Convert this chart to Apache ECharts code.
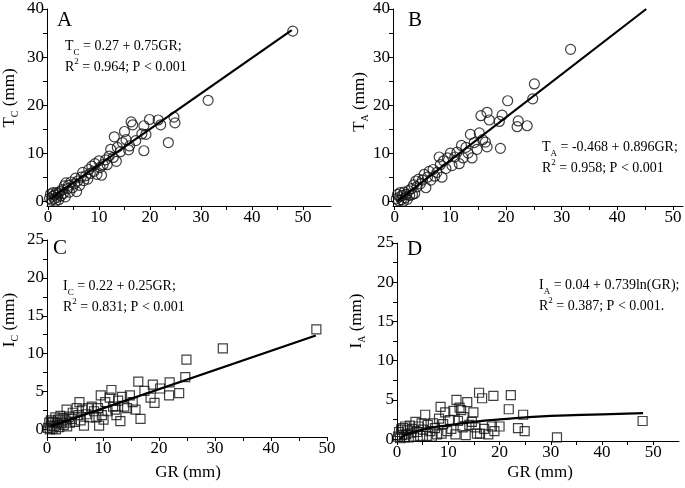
<!DOCTYPE html>
<html><head><meta charset="utf-8">
<script src="https://cdn.jsdelivr.net/npm/echarts@6/dist/echarts.min.js"></script>
<style>html,body{margin:0;padding:0;background:#fff}#c{width:685px;height:488px}</style>
</head><body><div id="c"></div>
<script>
// ---- Data ----
const grA = [0.3,0.5,0.7,0.9,1.0,1.2,1.3,1.5,1.6,1.8,2.0,2.1,2.3,2.5,2.8,3.0,3.2,3.4,3.5,3.8,4.0,4.2,4.5,4.8,5.2,5.4,5.6,5.8,6.2,6.5,6.8,7.0,7.4,7.8,8.0,8.3,8.6,9.0,9.2,9.6,10.0,10.2,10.5,10.8,11.3,11.6,12.0,12.3,12.8,13.0,13.4,13.6,14.2,14.6,15.0,15.3,15.8,16.0,16.3,16.6,17.2,18.4,18.8,18.8,19.2,19.9,21.6,22.1,23.6,24.7,24.9,31.4,48.0];
const tc  = [0.6,1.5,0.2,1.0,1.8,0.5,1.3,0.0,1.8,0.8,1.5,0.3,2.0,1.1,2.4,1.6,3.2,0.9,3.8,2.6,3.3,1.9,4.0,2.8,3.6,4.8,2.0,4.2,3.3,5.0,6.0,4.3,5.3,4.6,6.6,5.8,7.3,6.2,7.8,5.6,8.4,7.0,5.4,7.6,8.6,7.6,9.4,10.8,9.1,13.4,8.3,11.2,10.3,12.2,14.5,12.8,10.7,11.5,16.5,15.9,12.6,14.0,15.7,10.5,13.9,17.0,16.9,15.9,12.2,17.5,16.3,21.0,35.4];

const grB = [0.3,0.5,0.7,0.9,1.0,1.2,1.4,1.6,1.7,1.9,2.1,2.3,2.5,2.7,3.0,3.2,3.4,3.6,3.8,4.0,4.3,4.6,5.0,5.3,5.6,5.9,6.2,6.5,6.9,7.2,7.6,8.0,8.2,8.5,8.8,9.2,9.5,10.0,10.3,10.8,11.2,11.6,12.0,12.3,12.8,13.2,13.6,13.9,14.3,14.8,15.2,15.5,15.8,16.3,16.6,16.6,17.0,18.8,19.3,19.0,20.3,22.2,22.0,23.8,24.8,25.1,31.6];
const ta  = [0.5,1.4,0.1,0.9,1.8,0.3,1.2,0.0,1.9,0.7,1.4,0.4,2.2,1.2,2.6,1.4,3.4,1.6,4.2,3.0,4.6,3.6,4.4,5.6,2.8,5.0,6.2,4.4,6.6,5.2,6.0,9.2,7.6,5.0,8.4,6.8,9.0,10.0,7.4,9.2,10.2,7.8,11.6,9.0,11.2,10.0,13.9,9.0,12.2,10.8,14.2,17.8,12.8,12.3,18.5,11.3,16.9,16.6,17.9,11.0,20.9,16.7,15.5,15.7,21.3,24.4,31.6];

const grC = [0.2,0.4,0.5,0.7,0.8,1.0,1.1,1.3,1.5,1.6,1.8,2.0,2.2,2.4,2.6,2.8,3.0,3.3,3.5,3.6,3.9,4.1,4.4,4.6,5.0,5.3,5.6,5.8,6.0,6.3,6.6,7.0,7.3,7.6,8.0,8.4,8.8,9.1,9.3,9.6,9.8,10.1,10.4,10.8,11.2,11.5,11.8,12.2,12.4,12.7,13.1,13.4,13.8,14.3,14.8,15.3,15.8,16.3,16.7,17.4,18.5,18.9,19.2,20.2,21.9,21.8,23.6,24.7,24.9,31.4,48.1];
const ic  = [0.2,0.9,0.0,1.2,0.5,0.1,1.0,0.4,1.6,0.0,0.8,1.3,0.3,1.8,0.9,1.5,0.6,1.2,2.6,0.4,1.7,0.9,1.4,2.2,1.0,2.8,1.9,3.6,1.2,2.6,0.5,2.0,2.8,1.6,3.0,2.4,1.6,2.8,0.5,4.5,1.9,1.3,3.6,2.4,4.2,5.2,3.0,2.6,1.9,3.8,1.1,4.3,3.0,2.8,4.5,3.6,2.6,6.3,1.4,5.1,4.2,5.9,3.5,5.4,6.2,4.5,4.8,6.9,9.2,10.7,13.2];

const grD = [0.2,0.4,0.6,0.8,1.0,1.2,1.4,1.6,1.8,2.0,2.3,2.5,2.8,3.0,3.3,3.6,3.9,4.2,4.5,4.8,5.1,5.5,5.8,6.0,6.5,6.8,7.0,7.4,7.8,8.2,8.5,8.7,9.0,9.4,9.8,10.3,10.6,11.0,11.4,11.6,11.9,12.2,12.5,12.8,13.0,13.4,13.7,14.1,14.6,14.9,15.3,15.6,16.0,16.2,16.6,17.0,17.8,18.5,18.8,19.0,20.0,21.8,22.2,23.6,24.6,24.9,31.2,47.9];
const ia  = [0.3,0.9,0.1,1.2,0.5,1.4,0.2,1.6,0.6,1.1,0.2,1.7,0.8,1.3,0.3,2.2,0.9,1.6,0.4,2.0,1.2,3.1,0.4,1.8,1.0,0.3,2.0,1.4,0.6,2.6,4.1,0.7,1.9,3.4,1.0,2.4,1.3,3.6,0.6,5.0,2.3,4.0,3.7,1.5,2.8,0.5,4.7,1.8,2.2,3.4,1.5,0.7,5.9,0.7,5.2,1.3,0.6,1.6,5.5,1.0,1.6,3.8,5.6,1.4,3.1,1.0,0.2,2.3];

// fitted lines as drawn in the reference (hand-read points)
const fitA = [[0.4,0.5],[47.8,35.6]];
const fitB = [[0.5,0.0],[45.2,40.0]];
const fitC = [[0.6,0.4],[48.0,12.4]];
const fitD = [[0.5,0.0],[1,0.25],[2,0.6],[3,0.85],[5,1.2],[7,1.5],[10,1.75],[15,2.2],[20,2.5],[30,2.95],[40,3.15],[48,3.3]];

const xTicks = [0,5,10,15,20,25,30,35,40,45,50];
const xLabels = [0,10,20,30,40,50];
const yTicksT = [0,5,10,15,20,25,30,35,40];
const yLabelsT = [0,10,20,30,40];
const yTicksI = [0,2.5,5,7.5,10,12.5,15,17.5,20,22.5,25];
const yLabelsI = [0,5,10,15,20,25];

// ---- Chart ----
const F = 'Liberation Serif';
const zip = (a,b) => a.map((v,i)=>[v,b[i]]);

const grids = [
  {left:47, top:9, width:284, height:197},
  {left:393, top:9, width:290, height:197},
  {left:47, top:240, width:280, height:197},
  {left:397, top:243, width:282, height:198}
];
const xr = [[-0.2,55.5],[-0.3,51.8],[0,50],[0,55]];
const yr = [[-1,40],[-1,40],[-1,25],[-0.25,25]];

function xa(i){
  return {type:'value', gridIndex:i, min:xr[i][0], max:xr[i][1],
    axisLine:{show:true,onZero:false,lineStyle:{color:'#000',width:1}},
    axisTick:{show:true,inside:false,length:4,customValues:xTicks,lineStyle:{color:'#000'}},
    axisLabel:{customValues:xLabels,fontFamily:F,fontSize:17,color:'#000',margin:3},
    splitLine:{show:false}};
}
function ya(i){
  const t = i<2;
  return {type:'value', gridIndex:i, min:yr[i][0], max:yr[i][1],
    axisLine:{show:true,onZero:false,lineStyle:{color:'#000',width:1}},
    axisTick:{show:true,inside:false,length:4,customValues:t?yTicksT:yTicksI,lineStyle:{color:'#000'}},
    axisLabel:{customValues:t?yLabelsT:yLabelsI,fontFamily:F,fontSize:17,color:'#000',margin:3},
    splitLine:{show:false}};
}

const richEq = {
  m:{fontFamily:F,fontSize:14,color:'#000',lineHeight:21},
  s:{fontFamily:F,fontSize:9,color:'#000',lineHeight:11,verticalAlign:'bottom'},
  p:{fontFamily:F,fontSize:9,color:'#000',lineHeight:12,verticalAlign:'top'}
};
function eq(text,left,top){
  return {text:text,left:left,top:top,padding:0,textStyle:{fontFamily:F,fontSize:14,fontWeight:'normal',color:'#000',rich:richEq}};
}
function letter(t,left,top){
  return {text:t,left:left,top:top,padding:0,textStyle:{fontFamily:F,fontSize:21,fontWeight:'normal',color:'#000'}};
}
const richAx = {
  m:{fontFamily:F,fontSize:17,fill:'#000',lineHeight:20},
  s:{fontFamily:F,fontSize:10,fill:'#000',lineHeight:12,verticalAlign:'bottom'}
};
function vtitle(text,x,y){
  return {type:'text',x:x,y:y,rotation:Math.PI/2,
    style:{text:text,rich:richAx,fontFamily:F,fontSize:17,fill:'#000',align:'center',verticalAlign:'middle'}};
}
function htitle(text,x,y){
  return {type:'text',x:x,y:y,
    style:{text:text,fontFamily:F,fontSize:17,fill:'#000',align:'center',verticalAlign:'middle'}};
}

function sc(i,data,sym,size){
  return {type:'scatter',xAxisIndex:i,yAxisIndex:i,data:data,symbol:sym,symbolSize:size,clip:false,
    itemStyle:{color:'rgba(0,0,0,0)',borderColor:'#111',borderWidth:1.2},z:2};
}
function ln(i,data,smooth){
  return {type:'line',xAxisIndex:i,yAxisIndex:i,data:data,showSymbol:false,smooth:smooth,
    lineStyle:{color:'#000',width:2.2},z:3};
}

const option = {
  animation:false,
  backgroundColor:'#fff',
  grid:grids,
  xAxis:[xa(0),xa(1),xa(2),xa(3)],
  yAxis:[ya(0),ya(1),ya(2),ya(3)],
  title:[
    letter('A',57,10), letter('B',408,10), letter('C',53,238), letter('D',407,239),
    eq('{m|T}{s|C}{m| = 0.27 + 0.75GR;}\n{m|R}{p|2}{m| = 0.964; P < 0.001}',65,36),
    eq('{m|T}{s|A}{m| = -0.468 + 0.896GR;}\n{m|R}{p|2}{m| = 0.958; P < 0.001}',542,137),
    eq('{m|I}{s|C}{m| = 0.22 + 0.25GR;}\n{m|R}{p|2}{m| = 0.831; P < 0.001}',63,276),
    eq('{m|I}{s|A}{m| = 0.04 + 0.739ln(GR);}\n{m|R}{p|2}{m| = 0.387; P < 0.001.}',539,275)
  ],
  graphic:[
    vtitle('{m|T}{s|C}{m| (mm)}',10,98),
    vtitle('{m|T}{s|A}{m| (mm)}',360,102),
    vtitle('{m|I}{s|C}{m| (mm)}',10,320),
    vtitle('{m|I}{s|A}{m| (mm)}',357,321),
    htitle('GR (mm)',188,473),
    htitle('GR (mm)',540,473)
  ],
  series:[
    sc(0,zip(grA,tc),'circle',10), ln(0,fitA,false),
    sc(1,zip(grB,ta),'circle',10), ln(1,fitB,false),
    sc(2,zip(grC,ic),'rect',9), ln(2,fitC,false),
    sc(3,zip(grD,ia),'rect',9), ln(3,fitD,true)
  ]
};
const chart = echarts.init(document.getElementById('c'),null,{renderer:'canvas'});
chart.setOption(option);
</script>
</body></html>
